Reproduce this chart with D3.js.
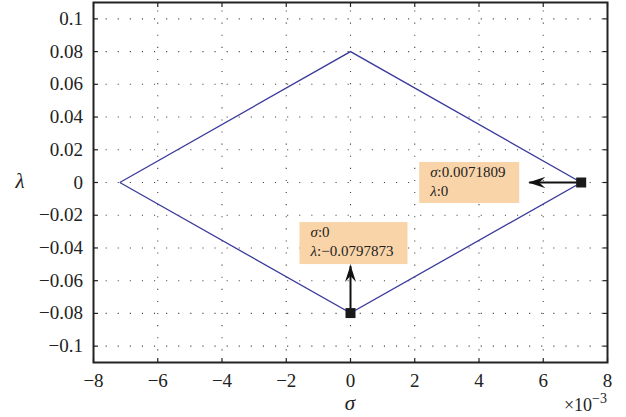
<!DOCTYPE html>
<html>
<head>
<meta charset="utf-8">
<script src="https://cdn.jsdelivr.net/npm/d3@7/dist/d3.min.js"></script>
<style>
  html, body { margin: 0; padding: 0; background: #fff; }
  svg text { font-family: 'Liberation Serif'; }
</style>
</head>
<body>
<svg id="chart" width="626" height="417"></svg>
<script>
// Boundary of the stability region in the (sigma, lambda) plane
const sigmaPts  = [-0.0071809, 0, 0.0071809, 0, -0.0071809];
const lambdaPts = [0, 0.08, 0, -0.0797873, 0];

// Annotated points
const tipSigma  = [0.0071809, 0];
const tipLambda = [0, -0.0797873];
const tipLines  = [["σ:0.0071809", "λ:0"], ["σ:0", "λ:−0.0797873"]];

// Axis ticks
const xTicks = [-8, -6, -4, -2, 0, 2, 4, 6, 8];           // ×10^-3
const yTicks = [-0.1, -0.08, -0.06, -0.04, -0.02, 0, 0.02, 0.04, 0.06, 0.08, 0.1];

const svg = d3.select("#chart");
const L = 93.5, R = 607.5, T = 2.5, B = 362.5;

const x = d3.scaleLinear().domain([-0.008, 0.008]).range([L, R]);
const y = d3.scaleLinear().domain([-0.11, 0.11]).range([B, T]);

const fmtY = v => (v === 0 ? "0" : String(+v.toFixed(2)).replace("-", "−"));
const fmtX = v => (v < 0 ? "−" + Math.abs(v) : String(v));
const serif = sel => sel.style("font-family", "'Liberation Serif'");

// dotted grid
const grid = svg.append("g").attr("stroke", "#444").attr("stroke-width", 1.1)
  .attr("stroke-dasharray", "1.1,11").attr("fill", "none");
xTicks.slice(1, -1).forEach(t => {
  grid.append("line").attr("x1", x(t / 1000)).attr("x2", x(t / 1000))
    .attr("y1", B).attr("y2", T);
});
yTicks.forEach(t => {
  grid.append("line").attr("x1", L).attr("x2", R)
    .attr("y1", y(t)).attr("y2", y(t));
});

// inward ticks on all four sides
const tickLen = 4.5;
const ticks = svg.append("g").attr("stroke", "#222").attr("stroke-width", 1.2);
xTicks.forEach(t => {
  const px = x(t / 1000);
  ticks.append("line").attr("x1", px).attr("x2", px).attr("y1", B).attr("y2", B - tickLen);
  ticks.append("line").attr("x1", px).attr("x2", px).attr("y1", T).attr("y2", T + tickLen);
});
yTicks.forEach(t => {
  const py = y(t);
  ticks.append("line").attr("x1", L).attr("x2", L + tickLen).attr("y1", py).attr("y2", py);
  ticks.append("line").attr("x1", R).attr("x2", R - tickLen).attr("y1", py).attr("y2", py);
});

// tick labels
svg.append("g").selectAll("text").data(xTicks).join("text")
  .call(serif)
  .attr("x", d => x(d / 1000)).attr("y", 387)
  .attr("text-anchor", "middle").attr("font-size", 19).attr("fill", "#222")
  .text(fmtX);
svg.append("g").selectAll("text").data(yTicks).join("text")
  .call(serif)
  .attr("x", 83).attr("y", d => y(d) + 6)
  .attr("text-anchor", "end").attr("font-size", 19).attr("fill", "#222")
  .text(fmtY);

// axis titles
svg.append("text").call(serif).attr("x", 20).attr("y", 188).attr("text-anchor", "middle")
  .attr("font-size", 21).attr("font-style", "italic").attr("fill", "#222").text("λ");
svg.append("text").call(serif).attr("x", 350).attr("y", 410).attr("text-anchor", "middle")
  .attr("font-size", 21).attr("font-style", "italic").attr("fill", "#222").text("σ");
const mult = svg.append("text").call(serif).attr("x", 607).attr("y", 411).attr("text-anchor", "end")
  .attr("font-size", 18).attr("fill", "#222");
mult.append("tspan").text("×10");
mult.append("tspan").attr("dy", -8).attr("font-size", 14).text("−3");

// boundary curve
const line = d3.line().x(d => x(d[0])).y(d => y(d[1]));
svg.append("path")
  .datum(d3.zip(sigmaPts, lambdaPts))
  .attr("d", line).attr("fill", "none")
  .attr("stroke", "#3b3a9c").attr("stroke-width", 1.3);

// frame
svg.append("rect").attr("x", L).attr("y", T).attr("width", R - L).attr("height", B - T)
  .attr("fill", "none").attr("stroke", "#222").attr("stroke-width", 2);

// data tips: arrow direction, box placement relative to marker
const tipLayout = [
  { dx: -52, dy: 0,   bx: -162, by: -20.5, bw: 100, bh: 41 },
  { dx: 0,   dy: -47, bx: -51,  by: -91,   bw: 108, bh: 42 }
];

const head = svg.append("defs").append("marker")
  .attr("id", "barb").attr("viewBox", "0 0 17 12").attr("refX", 16).attr("refY", 6)
  .attr("markerWidth", 17).attr("markerHeight", 12).attr("markerUnits", "userSpaceOnUse")
  .attr("orient", "auto");
head.append("path").attr("d", "M17,6 L0,0.5 L6,6 L0,11.5 Z").attr("fill", "#111");

tipSigma.forEach((s, i) => {
  const px = x(s), py = y(tipLambda[i]), lay = tipLayout[i];
  const g = svg.append("g");
  g.append("line").attr("x1", px).attr("y1", py)
    .attr("x2", px + lay.dx).attr("y2", py + lay.dy)
    .attr("stroke", "#111").attr("stroke-width", 2)
    .attr("marker-end", "url(#barb)");
  g.append("rect").attr("x", px - 5).attr("y", py - 5).attr("width", 10).attr("height", 10)
    .attr("fill", "#1a1a1a");
  const bx = px + lay.bx, by = py + lay.by;
  g.append("rect").attr("x", bx).attr("y", by).attr("width", lay.bw).attr("height", lay.bh)
    .attr("fill", "#f9d4a8");
  tipLines[i].forEach((t, k) => {
    const txt = g.append("text").call(serif)
      .attr("x", bx + 11).attr("y", by + 15 + k * 19)
      .attr("font-size", 15).attr("fill", "#222");
    txt.append("tspan").attr("font-style", "italic").text(t[0]);
    txt.append("tspan").text(t.slice(1));
  });
});
</script>
</body>
</html>
